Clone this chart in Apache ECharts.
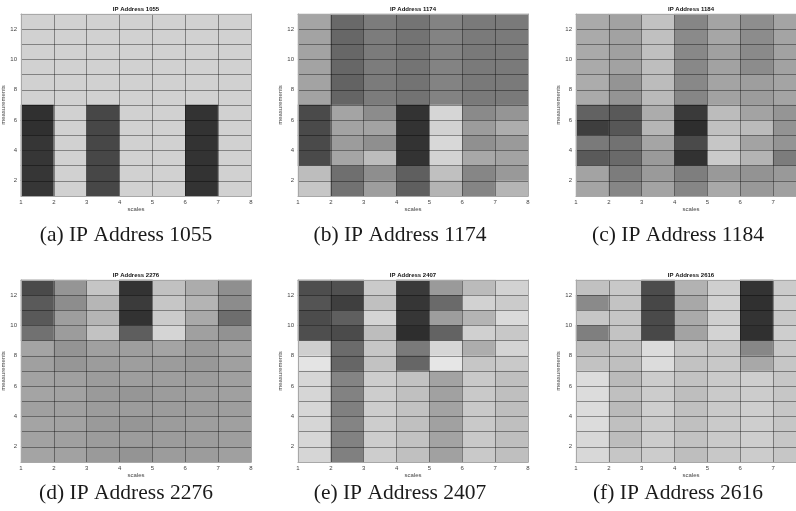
<!DOCTYPE html>
<html>
<head>
<meta charset="utf-8">
<title>IP Address heatmaps</title>
<script src="https://cdn.jsdelivr.net/npm/echarts@6.0.0/dist/echarts.min.js"></script>
<style>
  html, body { margin: 0; padding: 0; background: #fff; }
  #main { width: 796px; height: 511px; }
</style>
</head>
<body>
<div id="main"></div>
<script>
// columns (scales) and rows (measurements)
const scales = ['1', '2', '3', '4', '5', '6', '7'];
const measurements = ['1', '2', '3', '4', '5', '6', '7', '8', '9', '10', '11', '12'];
const ipNames = ['1055', '1174', '1184', '2276', '2407', '2616'];
const captionLetters = ['a', 'b', 'c', 'd', 'e', 'f'];

// gray level of every cell (0 = black, 255 = white)
// rows are listed from the top (measurement 12) down to measurement 1
const ip1055 = [
  [209, 209, 209, 209, 209, 209, 209],
  [209, 209, 209, 209, 209, 209, 209],
  [209, 209, 209, 209, 209, 209, 209],
  [209, 209, 209, 209, 209, 209, 209],
  [209, 209, 209, 209, 209, 209, 209],
  [209, 209, 209, 209, 209, 209, 209],
  [48, 209, 71, 209, 209, 51, 209],
  [48, 209, 71, 209, 209, 51, 209],
  [54, 209, 71, 209, 209, 51, 209],
  [54, 209, 71, 209, 209, 51, 209],
  [54, 209, 71, 209, 209, 51, 209],
  [54, 209, 71, 209, 209, 51, 209]
];
const ip1174 = [
  [165, 105, 124, 116, 131, 122, 122],
  [163, 103, 124, 115, 131, 122, 122],
  [163, 103, 123, 115, 130, 121, 122],
  [163, 103, 124, 116, 131, 122, 122],
  [163, 99, 123, 115, 131, 121, 122],
  [163, 101, 124, 115, 131, 122, 122],
  [74, 164, 140, 51, 214, 138, 149],
  [74, 163, 163, 51, 210, 156, 173],
  [74, 156, 143, 51, 216, 144, 154],
  [74, 165, 188, 51, 211, 168, 163],
  [189, 111, 142, 95, 192, 134, 153],
  [198, 114, 158, 95, 180, 133, 181]
];
const ip1184 = [
  [170, 162, 194, 134, 164, 142, 164],
  [170, 162, 192, 138, 166, 140, 164],
  [170, 160, 192, 136, 160, 138, 162],
  [170, 162, 190, 136, 162, 140, 162],
  [172, 148, 188, 136, 164, 158, 164],
  [170, 148, 186, 134, 162, 156, 164],
  [98, 89, 172, 58, 188, 163, 149],
  [62, 87, 182, 46, 192, 187, 147],
  [122, 114, 165, 74, 198, 163, 148],
  [90, 106, 154, 50, 202, 180, 124],
  [163, 124, 154, 126, 153, 147, 153],
  [165, 134, 164, 134, 169, 153, 160]
];
const ip2276 = [
  [74, 149, 197, 51, 193, 172, 143],
  [90, 141, 182, 59, 198, 180, 140],
  [89, 158, 181, 50, 203, 169, 110],
  [113, 156, 194, 94, 213, 160, 146],
  [164, 148, 160, 158, 164, 154, 164],
  [160, 150, 156, 158, 156, 152, 160],
  [162, 160, 156, 158, 158, 156, 160],
  [164, 162, 154, 150, 156, 158, 160],
  [160, 160, 156, 156, 156, 156, 158],
  [164, 162, 154, 150, 156, 158, 160],
  [162, 160, 156, 156, 156, 156, 158],
  [164, 162, 154, 148, 156, 156, 160]
];
const ip2407 = [
  [78, 80, 202, 58, 154, 187, 210],
  [84, 63, 192, 54, 106, 210, 203],
  [76, 95, 212, 54, 157, 180, 218],
  [78, 75, 189, 46, 99, 208, 200],
  [207, 107, 198, 122, 214, 173, 212],
  [228, 102, 194, 102, 230, 198, 201],
  [214, 132, 205, 194, 163, 201, 191],
  [214, 130, 205, 192, 161, 201, 191],
  [214, 128, 205, 194, 163, 201, 190],
  [214, 132, 205, 192, 161, 201, 191],
  [214, 130, 205, 194, 163, 201, 190],
  [214, 128, 205, 192, 161, 201, 191]
];
const ip2616 = [
  [193, 200, 76, 178, 207, 51, 203],
  [138, 195, 71, 168, 209, 48, 206],
  [198, 197, 74, 170, 207, 51, 200],
  [127, 195, 72, 163, 211, 48, 206],
  [188, 192, 220, 198, 198, 135, 200],
  [194, 191, 220, 194, 200, 168, 198],
  [220, 186, 204, 194, 202, 206, 198],
  [220, 192, 204, 190, 202, 204, 198],
  [220, 186, 206, 192, 202, 206, 198],
  [220, 192, 204, 192, 202, 206, 198],
  [216, 188, 204, 194, 202, 206, 198],
  [216, 198, 204, 190, 200, 204, 198]
];
const panels = [ip1055, ip1174, ip1184, ip2276, ip2407, ip2616];

// plot box of each panel (left, top) and caption centres
const boxes = [[21, 14], [298, 14], [576, 14], [21, 280], [298, 280], [576, 280]];
const boxW = 230, boxH = 182;
const captionX = [126, 400, 678];
const captionY = [235, 493];

const smallFont = 'Liberation Sans, Arial, sans-serif';
const frameColor = '#a8a8a8';
const meshColor = 'rgba(0,0,0,0.38)';

let myChart = echarts.init(document.getElementById('main'), null, { renderer: 'canvas' });

let grids = [], xAxes = [], yAxes = [], series = [], graphics = [];

panels.forEach((rows, i) => {
  let left = boxes[i][0], top = boxes[i][1];
  // the third column of panels runs past the right edge, as in the original figure
  grids.push({ left: left, top: top, width: boxW, height: boxH, outerBoundsMode: 'none', containLabel: false });

  // category axes hold the cells; only their lines are shown (top / right frame)
  xAxes.push({
    type: 'category', gridIndex: i, data: scales, position: 'top',
    axisLine: { onZero: false, lineStyle: { color: frameColor, width: 1 } },
    axisTick: { show: false }, axisLabel: { show: false }, splitLine: { show: false },
    z: 6
  });
  yAxes.push({
    type: 'category', gridIndex: i, data: measurements, position: 'right',
    axisLine: { onZero: false, lineStyle: { color: frameColor, width: 1 } },
    axisTick: { show: false }, axisLabel: { show: false }, splitLine: { show: false },
    z: 6
  });

  // value axes give the edge ticks and the mesh lines
  xAxes.push({
    type: 'value', gridIndex: i, min: 1, max: 8, interval: 1, position: 'bottom',
    name: 'scales', nameLocation: 'middle', nameGap: 7,
    nameTextStyle: { fontSize: 6, color: '#444', fontFamily: smallFont },
    axisLine: { onZero: false, lineStyle: { color: frameColor, width: 1 } },
    axisTick: { show: false },
    axisLabel: { fontSize: 6, color: '#444', margin: 3, fontFamily: smallFont },
    splitLine: { show: true, showMinLine: false, showMaxLine: false, lineStyle: { color: meshColor, width: 1 } },
    z: 5
  });
  yAxes.push({
    type: 'value', gridIndex: i, min: 1, max: 13, interval: 1, position: 'left',
    name: 'measurements', nameLocation: 'middle', nameGap: 12,
    nameTextStyle: { fontSize: 6, color: '#444', fontFamily: smallFont },
    axisLine: { onZero: false, lineStyle: { color: frameColor, width: 1 } },
    axisTick: { show: false },
    axisLabel: {
      fontSize: 6, color: '#444', margin: 4, fontFamily: smallFont,
      formatter: (v) => (v % 2 === 0 ? String(v) : '')
    },
    splitLine: { show: true, showMinLine: false, showMaxLine: false, lineStyle: { color: meshColor, width: 1 } },
    z: 5
  });

  let data = [];
  rows.forEach((row, r) => {
    row.forEach((v, c) => {
      data.push([c, rows.length - 1 - r, v]);
    });
  });
  series.push({
    name: 'IP Address ' + ipNames[i],
    type: 'heatmap',
    xAxisIndex: 2 * i,
    yAxisIndex: 2 * i,
    data: data,
    emphasis: { disabled: true },
    progressive: 0
  });

  // panel title
  graphics.push({
    type: 'text', x: left + boxW / 2, y: top - 4.5, z: 10,
    style: {
      text: 'IP Address ' + ipNames[i], fill: '#111',
      font: 'bold 6px ' + smallFont, align: 'center', verticalAlign: 'middle'
    }
  });
  // sub-figure caption
  graphics.push({
    type: 'text', x: captionX[i % 3], y: captionY[Math.floor(i / 3)], z: 10,
    style: {
      text: '(' + captionLetters[i] + ') IP Address ' + ipNames[i], fill: '#1a1a1a',
      font: '21.5px "Liberation Serif", "Times New Roman", serif', align: 'center', verticalAlign: 'middle'
    }
  });
});

myChart.setOption({
  animation: false,
  backgroundColor: '#fff',
  grid: grids,
  xAxis: xAxes,
  yAxis: yAxes,
  visualMap: {
    show: false,
    type: 'continuous',
    min: 0,
    max: 255,
    dimension: 2,
    seriesIndex: [0, 1, 2, 3, 4, 5],
    inRange: { color: ['#000000', '#ffffff'] }
  },
  series: series,
  graphic: graphics
});

window.addEventListener('resize', () => {
  myChart.resize();
});
</script>
</body>
</html>
